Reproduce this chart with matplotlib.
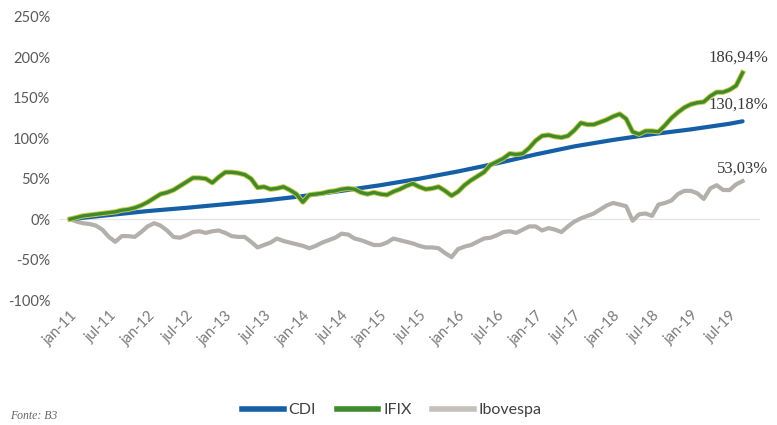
import matplotlib
matplotlib.use("Agg")
import matplotlib.pyplot as plt
from matplotlib.lines import Line2D

# ---- data (monthly, jan-11 .. set-19), cumulative return in % ----
ifix = [0, 2, 4, 5, 6, 7, 8, 9, 11, 12, 14, 17,
        21, 26, 31, 33, 36, 41, 46, 51, 51, 50, 45, 52,
        58, 58, 57, 55, 50, 39, 40, 37, 38, 40, 36, 31,
        21, 30, 31, 32, 34, 35, 37, 38, 37, 33, 31, 33,
        31, 30, 34, 37, 41, 44, 40, 37, 38, 40, 35, 29,
        34, 42, 48, 53, 58, 67, 71, 75, 81, 80, 81, 88,
        97, 103, 104, 102, 101, 103, 110, 119, 117, 117, 120, 123,
        127, 130, 124, 108, 105, 109, 109, 108, 116, 125, 132, 138,
        142, 144, 145, 152, 157, 157, 160, 165, 181]

ibov = [0, -3, -5, -6, -8, -13, -22, -28, -21, -21, -22, -16,
        -9, -5, -8, -14, -22, -23, -20, -16, -15, -17, -15, -14,
        -17, -21, -22, -22, -28, -35, -32, -29, -24, -27, -29, -31,
        -33, -36, -33, -29, -26, -23, -18, -19, -24, -26, -29, -32,
        -32, -29, -24, -26, -28, -30, -33, -35, -35, -36, -42, -47,
        -37, -34, -32, -28, -24, -23, -20, -16, -15, -17, -13, -9,
        -9, -14, -11, -13, -16, -9, -3, 1, 4, 7, 12, 17,
        20, 18, 16, -2, 6, 7, 4, 18, 20, 23, 31, 35,
        35, 32, 25, 38, 42, 36, 36, 43, 47]

# CDI (semi-annual points, smooth curve)
cdi_months = [0, 6, 12, 18, 24, 30, 36, 42, 48, 54, 60, 66, 72, 78, 84, 90, 96, 102, 104]
cdi = [0, 5, 10, 14, 18.5, 23, 28.5, 35, 42, 50, 59, 69, 80, 90, 98, 105, 111, 118, 121]

tick_labels = ["jan-11", "jul-11", "jan-12", "jul-12", "jan-13", "jul-13", "jan-14",
               "jul-14", "jan-15", "jul-15", "jan-16", "jul-16", "jan-17", "jul-17",
               "jan-18", "jul-18", "jan-19", "jul-19"]
y_ticks = [-100, -50, 0, 50, 100, 150, 200, 250]
end_labels = ["186,94%", "130,18%", "53,03%"]

# ---- figure ----
W, H = 777, 425
fig = plt.figure(figsize=(W / 100, H / 100), dpi=100)
left, right = 60 / W, 760 / W
bottom, top = (H - 300) / H, (H - 17) / H
ax = fig.add_axes([left, bottom, right - left, top - bottom])

months = list(range(len(ifix)))

ax.axhline(0, color="#e4e4e4", lw=0.8, zorder=1)

blue = "#155fa6"
green = "#3f8a2c"
gray = "#b3afab"

ax.plot(months, ibov, color=gray, lw=3.0, solid_joinstyle="round", zorder=2)
ax.plot(cdi_months, cdi, color=blue, lw=3.0, solid_capstyle="round", zorder=3)
ax.plot(months, ifix, color="#c9c84a", lw=3.8, solid_joinstyle="round", zorder=4)
ax.plot(months, ifix, color=green, lw=2.4, solid_joinstyle="round", zorder=5)

ax.set_xlim(-1.55, 106.7)
ax.set_ylim(-100, 250)

ax.set_yticks(y_ticks)
ax.set_yticklabels([f"{v}%" for v in y_ticks])
ax.set_xticks(list(range(0, 6 * len(tick_labels), 6)))
ax.set_xticklabels(tick_labels, rotation=45, ha="right", va="top",
                   rotation_mode="anchor")

tick_font = "Lato"
for lbl in ax.get_yticklabels():
    lbl.set_fontfamily(tick_font)
    lbl.set_fontsize(10.5)
    lbl.set_color("#595959")
for lbl in ax.get_xticklabels():
    lbl.set_fontfamily(tick_font)
    lbl.set_fontsize(10.5)
    lbl.set_color("#7a7a7a")

ax.tick_params(axis="both", length=0)
ax.tick_params(axis="y", pad=7)
ax.tick_params(axis="x", pad=6)
for s in ax.spines.values():
    s.set_visible(False)

# end labels
serif = "Liberation Serif"
for txt, yv in zip(end_labels, [200, 142, 63]):
    ax.text(106.7 + 1.3, yv, txt, ha="right", va="center",
            fontsize=12, family=serif, color="#3a3a3a")

# legend
handles = [Line2D([0], [0], color=blue, lw=4),
           Line2D([0], [0], color=green, lw=4),
           Line2D([0], [0], color="#c4c0bb", lw=4)]
fig.legend(handles, ["CDI", "IFIX", "Ibovespa"], loc="center",
           bbox_to_anchor=(392 / W, 1 - 410 / H), ncol=3, frameon=False,
           handlelength=2.6, handletextpad=0.3, columnspacing=1.3,
           prop={"family": tick_font, "size": 11.5}, labelcolor="#404040")

fig.text(10 / W, 1 - 416 / H, "Fonte: B3", fontsize=8.5, family=serif,
         style="italic", color="#666666", ha="left", va="center")

fig.savefig("out.png", dpi=100)
